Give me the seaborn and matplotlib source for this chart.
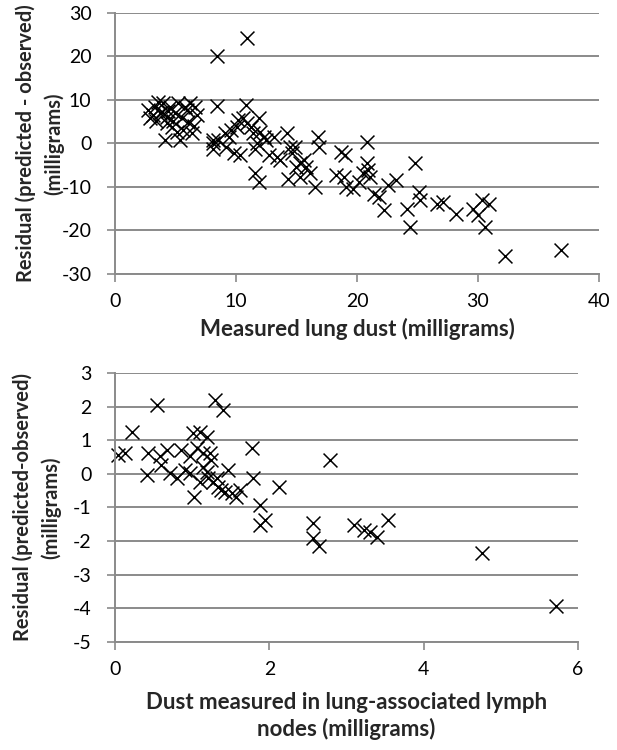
import matplotlib
matplotlib.use("Agg")
import matplotlib.pyplot as plt
import seaborn as sns
import pandas as pd

# top panel: residual vs measured lung dust
lung_dust = [
    2.75, 3.17, 2.89, 3.31, 3.58, 3.99, 4.13, 3.86, 4.27, 4.68, 4.96, 5.23, 5.37,
    5.51, 5.65, 5.92, 6.06, 6.2, 6.34, 6.61, 6.75, 5.1, 4.55, 4.27, 3.4, 3.7, 4.4,
    4.8, 5.8, 6.5,
    8.1, 8.1, 8.1, 8.5, 9.1, 9.4, 9.6, 10.1, 9.2, 9.8, 10.3,
    10.2, 10.6, 10.9, 11.2, 11.4, 11.9, 12.0, 12.3, 12.5, 11.7, 11.6, 11.6, 11.9,
    13.1, 12.7, 13.4, 13.6, 14.2, 14.5, 14.6, 14.9, 15.0, 15.3, 15.6, 15.8, 16.1,
    14.3, 15.3, 16.5, 16.8, 16.9,
    10.9, 8.4, 8.4, 10.8,
    18.7, 19.0, 20.8, 18.3, 18.9, 19.1, 19.7, 20.2, 20.5, 20.8, 20.9, 21.1, 21.4,
    21.8, 22.2, 22.6, 23.2, 24.8, 24.1, 25.1, 25.2, 24.4, 26.6, 27.1, 28.2, 29.6,
    30.3, 30.9, 30.0, 30.6, 32.2, 36.9,
]
lung_resid = [
    7.7, 6.5, 5.8, 8.5, 9.6, 9.2, 0.8, 7.3, 6.2, 3.8, 6.9, 9.2, 0.8,
    5.8, 3.1, 7.7, 5.0, 9.2, 2.3, 8.5, 6.5, 2.7, 8.5, 4.6, 5.2, 7.0, 7.5,
    5.2, 8.3, 4.0,
    0.0, -1.2, 0.8, 0.8, 2.3, 1.5, 3.1, 3.8, -0.8, -2.3, -2.7,
    5.4, 5.8, 4.6, 3.8, 2.3, 5.8, 2.7, 1.5, 0.8, 0.0, -1.2, -6.9, -8.8,
    1.5, -2.7, -3.1, -3.8, 2.3, -0.8, -2.3, -0.8, -5.4, -4.6, -3.8, -5.4, -6.9,
    -8.1, -7.7, -10.0, 1.5, -0.8,
    24.2, 20.0, 8.6, 8.8,
    -1.9, -2.7, 0.4, -7.3, -7.7, -10.0, -10.4, -8.8, -6.9, -4.6, -6.2, -7.7, -11.5,
    -12.3, -15.4, -9.6, -8.5, -4.6, -15.0, -11.2, -13.1, -19.2, -13.8, -13.5, -16.2, -15.0,
    -13.1, -13.8, -16.5, -19.2, -25.8, -24.6,
]

# bottom panel: residual vs dust in lung-associated lymph nodes
lymph_dust = [
    1.29, 1.4, 0.54, 0.22, 0.04, 0.13, 0.43, 0.41, 0.58, 0.67, 0.6, 0.71, 0.8,
    0.86, 0.91, 0.97, 1.01, 1.06, 1.1, 1.14, 1.19, 1.23, 0.97, 1.03, 1.1, 1.14,
    1.19, 1.21, 1.27, 1.25, 1.32, 1.34, 1.38, 1.42, 1.47, 1.51, 1.57, 1.62, 1.77,
    1.79, 1.88, 1.88, 1.94, 2.13, 2.57, 2.57, 2.65, 2.78, 3.1, 3.23, 3.3, 3.39,
    3.54, 4.76, 5.71,
]
lymph_resid = [
    2.2, 1.9, 2.06, 1.26, 0.57, 0.62, 0.62, -0.03, 0.52, 0.72, 0.27, 0.02, -0.13,
    0.72, 0.12, 0.52, 1.21, 0.76, 1.26, 0.62, 1.11, 0.62, 0.02, -0.68, -0.23, 0.22,
    0.07, -0.13, -0.23, 0.42, -0.13, -0.38, -0.48, -0.53, 0.12, -0.58, -0.68, -0.48, 0.76,
    -0.13, -0.92, -1.52, -1.37, -0.38, -1.47, -1.92, -2.16, 0.42, -1.52, -1.67, -1.72, -1.87,
    -1.37, -2.36, -3.95,
]

top_xticks = [0, 10, 20, 30, 40]
top_yticks = [-30, -20, -10, 0, 10, 20, 30]
bot_xticks = [0, 2, 4, 6]
bot_yticks = [-5, -4, -3, -2, -1, 0, 1, 2, 3]

sns.set_theme(style="white")
plt.rcParams["font.family"] = ["Lato", "DejaVu Sans"]
plt.rcParams["axes.unicode_minus"] = False

GRID = "#8a8a8a"

fig = plt.figure(figsize=(6.17, 7.5), dpi=100)
ax1 = fig.add_axes([0.1864, 0.6347, 0.7844, 0.348])
ax2 = fig.add_axes([0.1864, 0.1444, 0.7504, 0.3579])


def style_axis(ax, xticks, yticks):
    ax.set_xlim(xticks[0], xticks[-1])
    ax.set_ylim(yticks[0], yticks[-1])
    ax.set_xticks(xticks)
    ax.set_yticks(yticks)
    ax.yaxis.grid(True, color=GRID, lw=1.4)
    ax.xaxis.grid(False)
    ax.set_axisbelow(True)
    for side in ["top", "right"]:
        ax.spines[side].set_visible(False)
    for side in ["left", "bottom"]:
        ax.spines[side].set_color(GRID)
        ax.spines[side].set_linewidth(1.4)
    ax.tick_params(axis="y", direction="out", length=6, width=1.2, color=GRID,
                   pad=11, labelsize=14, labelcolor="black", left=True)
    ax.tick_params(axis="x", direction="out", length=6, width=1.2, color=GRID,
                   pad=8, labelsize=14, labelcolor="black", bottom=True)


df_top = pd.DataFrame({"x": lung_dust, "y": lung_resid})
sns.scatterplot(data=df_top, x="x", y="y", ax=ax1, marker="x", color="black",
                s=100, linewidth=1.1, clip_on=False)
style_axis(ax1, top_xticks, top_yticks)
ax1.set_xlabel("Measured lung dust (milligrams)", fontsize=16, fontweight="bold", va="top")
ax1.xaxis.set_label_coords(0.5, -0.168)
ax1.set_ylabel("Residual (predicted - observed)\n(milligrams)", fontsize=14.5,
               fontweight="bold", va="center", linespacing=1.45)
ax1.yaxis.set_label_coords(-0.155, 0.5)

df_bot = pd.DataFrame({"x": lymph_dust, "y": lymph_resid})
sns.scatterplot(data=df_bot, x="x", y="y", ax=ax2, marker="x", color="black",
                s=100, linewidth=1.1, clip_on=False)
style_axis(ax2, bot_xticks, bot_yticks)
ax2.set_xlabel("Dust measured in lung-associated lymph\nnodes (milligrams)", fontsize=16,
               fontweight="bold", va="top", linespacing=1.3, multialignment="center")
ax2.xaxis.set_label_coords(0.5, -0.186)
ax2.set_ylabel("Residual (predicted-observed)\n(milligrams)", fontsize=14.5,
               fontweight="bold", va="center", linespacing=1.45)
ax2.yaxis.set_label_coords(-0.168, 0.5)

fig.savefig("out.png", dpi=100)
